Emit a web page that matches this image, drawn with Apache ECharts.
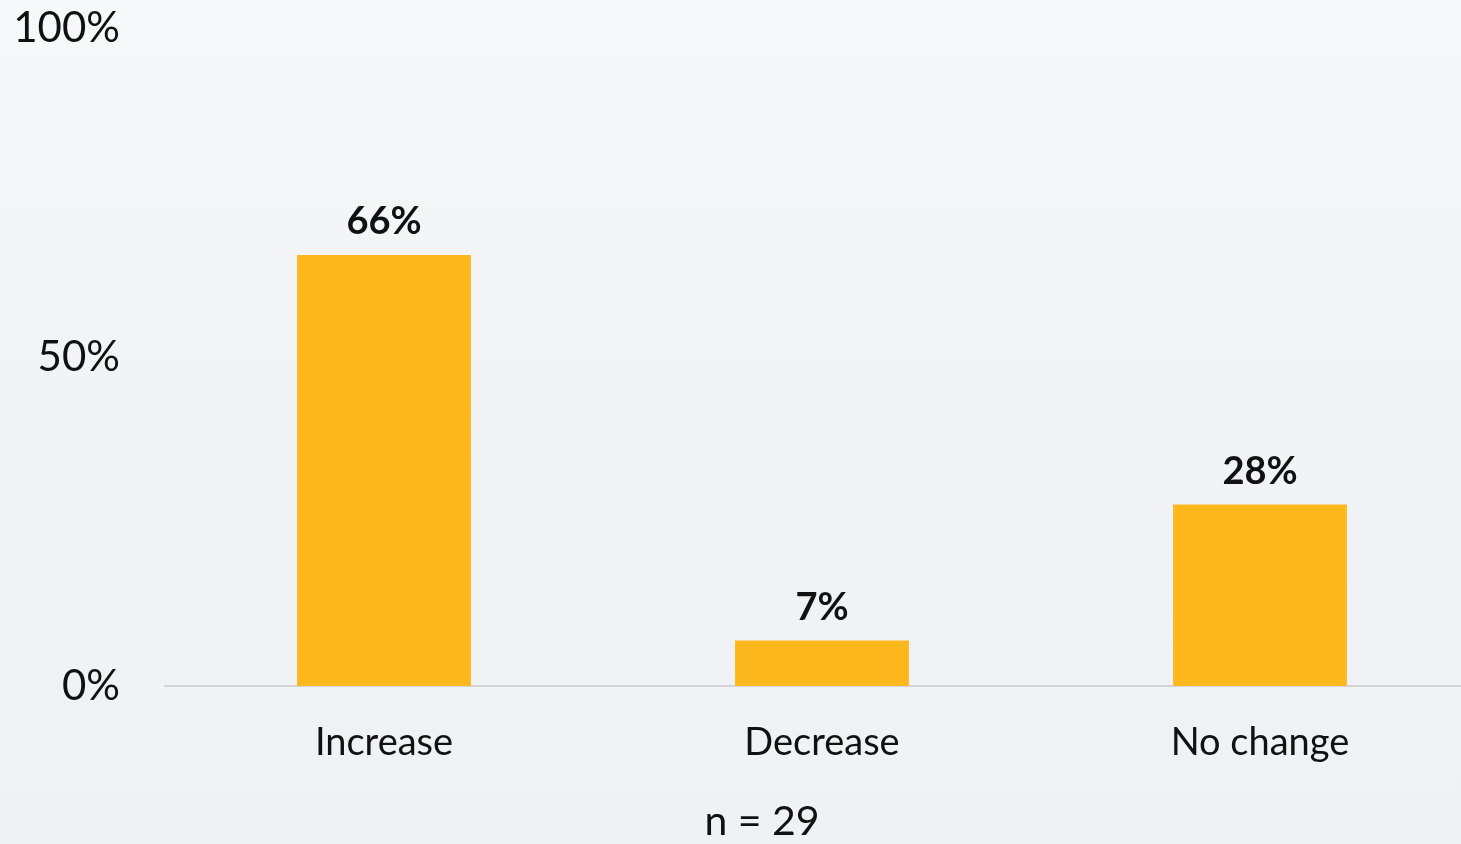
<!DOCTYPE html>
<html>
<head>
<meta charset="utf-8">
<script src="https://cdn.jsdelivr.net/npm/echarts@6/dist/echarts.min.js"></script>
<style>
html,body{margin:0;padding:0;overflow:hidden;width:1461px;height:844px;background:#f3f5f7;}
#chart{width:1479px;height:844px;background:linear-gradient(180deg,#f7f8fa 0%,#f1f3f6 45%,#eff2f5 100%);}
</style>
</head>
<body>
<div id="chart"></div>
<script>
const categories = ['Increase', 'Decrease', 'No change'];
const values = [65.5, 6.9, 27.6];
const yTicks = [0, 50, 100];
const sampleNote = 'n = 29';

const chart = echarts.init(document.getElementById('chart'), null, {renderer: 'canvas'});
chart.setOption({
  backgroundColor: 'transparent',
  animation: false,
  grid: {left: 165, right: 0, top: 28, bottom: 158, containLabel: false},
  xAxis: {
    type: 'category',
    data: categories,
    axisLine: {show: true, lineStyle: {color: '#d4d4d6', width: 2}},
    axisTick: {show: false},
    axisLabel: {color: '#111', fontFamily: 'Lato', fontSize: 38, margin: 38}
  },
  yAxis: {
    type: 'value',
    min: yTicks[0],
    max: yTicks[yTicks.length - 1],
    interval: yTicks[1] - yTicks[0],
    axisLine: {show: false},
    axisTick: {show: false},
    splitLine: {show: false},
    axisLabel: {color: '#111', fontFamily: 'Lato', fontSize: 42, margin: 45, formatter: '{value}%'}
  },
  series: [{
    type: 'bar',
    data: values,
    barWidth: '39.7%',
    itemStyle: {color: '#FDB81E'},
    label: {
      show: true,
      position: 'top',
      distance: 14,
      color: '#111',
      fontFamily: 'Lato',
      fontWeight: 'bold',
      fontSize: 38,
      formatter: function (p) { return Math.round(p.value) + '%'; }
    }
  }],
  graphic: [{
    type: 'text',
    x: 762,
    y: 822,
    style: {text: sampleNote, fill: '#111', font: '41px Lato', textAlign: 'center', textVerticalAlign: 'middle'}
  }]
});
</script>
</body>
</html>
